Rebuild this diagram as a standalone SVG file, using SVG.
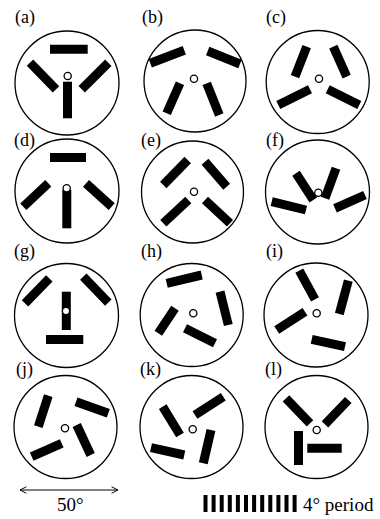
<svg xmlns="http://www.w3.org/2000/svg" width="380" height="519" viewBox="0 0 380 519">
<style>
.ring{fill:none;stroke:#000;stroke-width:1.3}
.hub{fill:#fff;stroke:#000;stroke-width:1.3}
.bar{stroke:#000;stroke-width:9;stroke-linecap:butt}
.lbl{font-family:"Liberation Serif","Times New Roman",serif;font-size:18px;fill:#000}
.cap{font-family:"Liberation Serif","Times New Roman",serif;font-size:19px;fill:#000}
.grat{fill:#000}
</style>
<defs>
<marker id="chev" viewBox="0 0 10 10" refX="9" refY="5" markerWidth="8" markerHeight="10" orient="auto-start-reverse" markerUnits="userSpaceOnUse">
<path d="M1,1 L9,5 L1,9" fill="none" stroke="#000" stroke-width="1.2"/>
</marker>
</defs>
<rect width="380" height="519" fill="#fff"/>

<g id="panel-a">
<text class="lbl" x="15" y="23">(a)</text>
<circle class="ring" cx="67" cy="83" r="52"/>
<line class="bar" x1="50" y1="49.2" x2="87.7" y2="49.2"/>
<line class="bar" x1="30" y1="62.7" x2="56" y2="89.3"/>
<line class="bar" x1="108.3" y1="62.7" x2="81.7" y2="89.3"/>
<line class="bar" x1="67.5" y1="81.7" x2="67.5" y2="118.3"/>
<circle class="hub" cx="67.7" cy="76" r="3.6"/>
</g>

<g id="panel-b">
<text class="lbl" x="142" y="23">(b)</text>
<circle class="ring" cx="195" cy="81" r="51"/>
<line class="bar" x1="150.3" y1="63.3" x2="184.3" y2="50.3"/>
<line class="bar" x1="207.7" y1="51" x2="240" y2="64"/>
<line class="bar" x1="180" y1="83.3" x2="166.7" y2="113.3"/>
<line class="bar" x1="206.7" y1="83.3" x2="219.3" y2="115"/>
<circle class="hub" cx="194" cy="78.7" r="3.6"/>
</g>

<g id="panel-c">
<text class="lbl" x="266" y="23">(c)</text>
<circle class="ring" cx="317.7" cy="82" r="51.5"/>
<line class="bar" x1="306.7" y1="46.7" x2="295" y2="76.7"/>
<line class="bar" x1="333.3" y1="46.7" x2="346.7" y2="76.7"/>
<line class="bar" x1="310" y1="89.3" x2="278.3" y2="105"/>
<line class="bar" x1="327.7" y1="89.3" x2="359.3" y2="105"/>
<circle class="hub" cx="319" cy="78.7" r="3.6"/>
</g>

<g id="panel-d">
<text class="lbl" x="14" y="146">(d)</text>
<circle class="ring" cx="67" cy="191" r="52"/>
<line class="bar" x1="50" y1="157.5" x2="86" y2="157.5"/>
<line class="bar" x1="48.3" y1="183.3" x2="23.3" y2="206.7"/>
<line class="bar" x1="86" y1="183.3" x2="111.7" y2="206.7"/>
<line class="bar" x1="66.8" y1="190" x2="66.8" y2="228.3"/>
<circle class="hub" cx="66.7" cy="188.3" r="3.6"/>
</g>

<g id="panel-e">
<text class="lbl" x="141" y="146">(e)</text>
<circle class="ring" cx="192.5" cy="192" r="51"/>
<line class="bar" x1="187.7" y1="160" x2="163.3" y2="185"/>
<line class="bar" x1="205" y1="161.7" x2="226.7" y2="186.7"/>
<line class="bar" x1="188.3" y1="200" x2="163.3" y2="223.3"/>
<line class="bar" x1="205" y1="200" x2="230" y2="223.3"/>
<circle class="hub" cx="194" cy="191.7" r="3.6"/>
</g>

<g id="panel-f">
<text class="lbl" x="266" y="146">(f)</text>
<circle class="ring" cx="317.5" cy="192" r="52"/>
<line class="bar" x1="296" y1="173.3" x2="313.3" y2="200"/>
<line class="bar" x1="336" y1="168.3" x2="325" y2="198.3"/>
<line class="bar" x1="271.7" y1="201.7" x2="306" y2="210"/>
<line class="bar" x1="335" y1="208.3" x2="365" y2="195"/>
<circle class="hub" cx="318.3" cy="192.7" r="3.6"/>
</g>

<g id="panel-g">
<text class="lbl" x="14" y="257">(g)</text>
<circle class="ring" cx="66.5" cy="315.5" r="52"/>
<line class="bar" x1="49.3" y1="278.3" x2="25" y2="303.3"/>
<line class="bar" x1="83.3" y1="276.7" x2="108.3" y2="302.7"/>
<line class="bar" x1="66.3" y1="291.7" x2="66.3" y2="330"/>
<line class="bar" x1="46" y1="339.5" x2="83.3" y2="339.5"/>
<circle class="hub" cx="66" cy="311" r="3.6"/>
</g>

<g id="panel-h">
<text class="lbl" x="141" y="257">(h)</text>
<circle class="ring" cx="191.7" cy="315" r="51.5"/>
<line class="bar" x1="166.7" y1="283.3" x2="201.7" y2="275"/>
<line class="bar" x1="220" y1="291.7" x2="228.3" y2="325"/>
<line class="bar" x1="175" y1="308.3" x2="158.3" y2="333.3"/>
<line class="bar" x1="185" y1="328.3" x2="215" y2="343.3"/>
<circle class="hub" cx="193.3" cy="313.3" r="3.6"/>
</g>

<g id="panel-i">
<text class="lbl" x="266" y="257">(i)</text>
<circle class="ring" cx="316" cy="315" r="52"/>
<line class="bar" x1="299.3" y1="270.7" x2="315" y2="299.3"/>
<line class="bar" x1="348.3" y1="280.7" x2="339.3" y2="314"/>
<line class="bar" x1="305" y1="311.7" x2="276.7" y2="330"/>
<line class="bar" x1="311.7" y1="339.3" x2="345" y2="346.7"/>
<circle class="hub" cx="316.7" cy="313.3" r="3.6"/>
</g>

<g id="panel-j">
<text class="lbl" x="16" y="375">(j)</text>
<circle class="ring" cx="65.5" cy="427" r="51.5"/>
<line class="bar" x1="48.3" y1="395.7" x2="38.3" y2="426.7"/>
<line class="bar" x1="76" y1="401.7" x2="108.3" y2="413.3"/>
<line class="bar" x1="61.7" y1="443.3" x2="31.7" y2="456.7"/>
<line class="bar" x1="76.7" y1="425" x2="90.7" y2="455"/>
<circle class="hub" cx="65" cy="428.3" r="3.6"/>
</g>

<g id="panel-k">
<text class="lbl" x="140" y="375">(k)</text>
<circle class="ring" cx="191.5" cy="427" r="51.5"/>
<line class="bar" x1="162.7" y1="406.7" x2="180" y2="435"/>
<line class="bar" x1="195" y1="415" x2="223.3" y2="396.7"/>
<line class="bar" x1="151" y1="447.7" x2="184.3" y2="455"/>
<line class="bar" x1="211" y1="430" x2="203.3" y2="463.3"/>
<circle class="hub" cx="192.7" cy="429.3" r="3.6"/>
</g>

<g id="panel-l">
<text class="lbl" x="265" y="375">(l)</text>
<circle class="ring" cx="316.5" cy="427" r="51.5"/>
<line class="bar" x1="286" y1="398.3" x2="310" y2="423.3"/>
<line class="bar" x1="348.3" y1="400" x2="325" y2="424.3"/>
<line class="bar" x1="298.5" y1="431" x2="298.5" y2="465"/>
<line class="bar" x1="307.3" y1="448.3" x2="341.7" y2="448.3"/>
<circle class="hub" cx="316.7" cy="430" r="3.6"/>
</g>

<g id="connectors">
<line x1="20" y1="490" x2="118" y2="490" stroke="#000" stroke-width="1.2" marker-start="url(#chev)" marker-end="url(#chev)"/>
</g>
<text class="cap" x="57" y="511">50°</text>

<g id="grating">
<rect class="grat" x="203.5" y="495" width="4" height="17"/>
<rect class="grat" x="211.6" y="495" width="4" height="17"/>
<rect class="grat" x="219.7" y="495" width="4" height="17"/>
<rect class="grat" x="227.8" y="495" width="4" height="17"/>
<rect class="grat" x="235.9" y="495" width="4" height="17"/>
<rect class="grat" x="244" y="495" width="4" height="17"/>
<rect class="grat" x="252.1" y="495" width="4" height="17"/>
<rect class="grat" x="260.2" y="495" width="4" height="17"/>
<rect class="grat" x="268.3" y="495" width="4" height="17"/>
<rect class="grat" x="276.4" y="495" width="4" height="17"/>
<rect class="grat" x="284.5" y="495" width="4" height="17"/>
<rect class="grat" x="292.6" y="495" width="4" height="17"/>
</g>
<text class="cap" x="303" y="511">4° period</text>
</svg>
